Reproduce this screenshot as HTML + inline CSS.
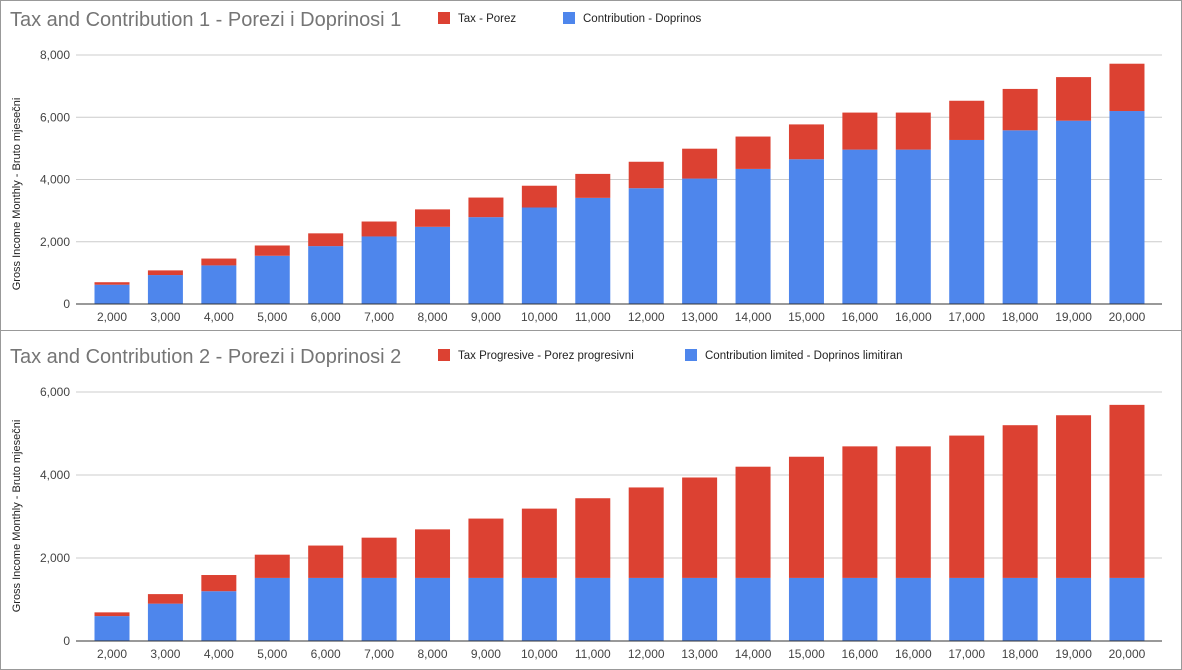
<!DOCTYPE html>
<html><head><meta charset="utf-8"><style>
html,body{margin:0;padding:0;background:#fff}
svg{display:block;font-family:"Liberation Sans",Arial,sans-serif}
</style></head><body>
<svg id="c" width="1182" height="670"></svg>
<script>
const categories=["2,000","3,000","4,000","5,000","6,000","7,000","8,000","9,000","10,000","11,000","12,000","13,000","14,000","15,000","16,000","16,000","17,000","18,000","19,000","20,000"];
const contrib1=[620,930,1240,1550,1860,2170,2480,2790,3100,3410,3720,4030,4340,4650,4960,4960,5270,5580,5890,6200];
const tax1=[80,150,220,330,410,480,560,630,700,770,850,960,1040,1120,1190,1190,1260,1330,1400,1520];
const contrib2=[600,900,1200,1520,1520,1520,1520,1520,1520,1520,1520,1520,1520,1520,1520,1520,1520,1520,1520,1520];
const tax2=[90,230,390,560,780,970,1170,1430,1670,1920,2180,2420,2680,2920,3170,3170,3430,3680,3920,4170];
const ticks1=[0,2000,4000,6000,8000];
const ticks2=[0,2000,4000,6000];
const svg=document.getElementById('c');
const NS='http://www.w3.org/2000/svg';
function mk(t,a,txt){const e=document.createElementNS(NS,t);for(const k in a)e.setAttribute(k,a[k]);if(txt!==undefined)e.textContent=txt;svg.appendChild(e);return e;}
const RED='#dc4132',BLUE='#4e86ec';
function chart(off,title,leg1,leg2,leg2x,c,t,ticks,max,name,ytc){
  const y0=off+304, h=249;
  const ys=v=>y0-v/max*h;
  const xs=i=>112+i*53.42;
  let e=mk('text',{x:10,y:off+26,'font-size':20,fill:'#757575'},title);
  
  e=mk('rect',{x:438,y:off+12,width:12,height:12,fill:RED});
  
  e=mk('text',{x:458,y:off+22,'font-size':11.5,fill:'#222'},leg1);
  
  e=mk('rect',{x:leg2x,y:off+12,width:12,height:12,fill:BLUE});
  
  e=mk('text',{x:leg2x+20,y:off+22,'font-size':11.5,fill:'#222'},leg2);
  
  ticks.forEach(v=>{
    e=mk('line',{x1:76,x2:1162,y1:ys(v),y2:ys(v),stroke:v===0?'#333':'#ccc','stroke-width':1});
    
    e=mk('text',{x:70,y:ys(v)+4,'font-size':12,fill:'#444','text-anchor':'end'},v.toLocaleString('en-US'));
    
  });
  e=mk('text',{x:0,y:0,'font-size':11,fill:'#222','text-anchor':'middle',transform:`translate(20,${ytc}) rotate(-90)`},'Gross Income Monthly - Bruto mjesečni');
  
  categories.forEach((cat,i)=>{
    const x=xs(i)-17.5;
    e=mk('rect',{x:x,y:ys(c[i]),width:35,height:y0-ys(c[i]),fill:BLUE});
    
    e=mk('rect',{x:x,y:ys(c[i]+t[i]),width:35,height:ys(c[i])-ys(c[i]+t[i]),fill:RED});
    
    e=mk('text',{x:xs(i),y:y0+17,'font-size':12,fill:'#444','text-anchor':'middle'},cat);
    
  });
  mk('line',{x1:76,x2:1162,y1:y0,y2:y0,stroke:'#333','stroke-width':1});
}
chart(0,'Tax and Contribution 1 - Porezi i Doprinosi 1','Tax - Porez','Contribution - Doprinos',563,contrib1,tax1,ticks1,8000,'chart1',194);
chart(337,'Tax and Contribution 2 - Porezi i Doprinosi 2','Tax Progresive - Porez progresivni','Contribution limited - Doprinos limitiran',685,contrib2,tax2,ticks2,6000,'chart2',516);
let b=mk('rect',{x:0.5,y:0.5,width:1181,height:669,fill:'none',stroke:'#999'});

b=mk('line',{x1:0,x2:1182,y1:330.5,y2:330.5,stroke:'#999'});

</script>
</body></html>
